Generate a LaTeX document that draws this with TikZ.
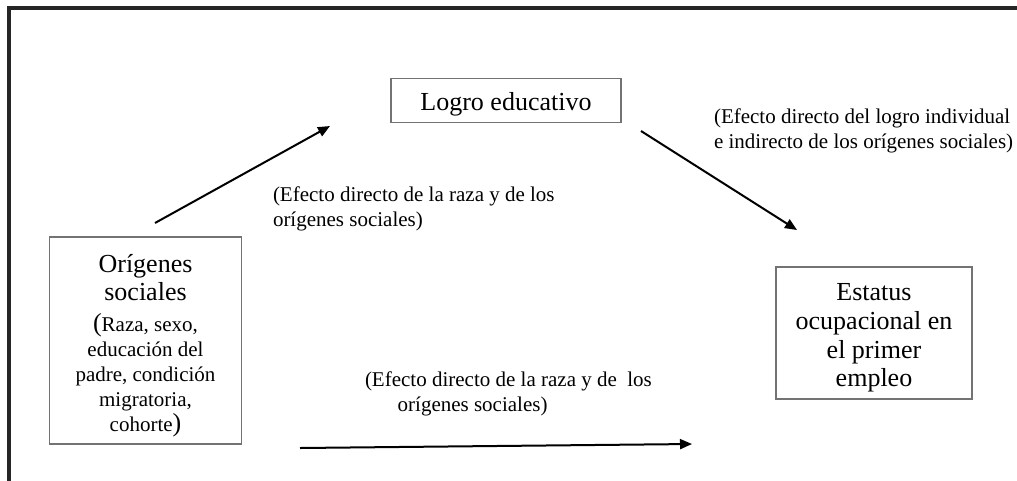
\documentclass[tikz,border=0pt]{standalone}
\usepackage{fontspec}
\setmainfont{Liberation Serif}
\usetikzlibrary{arrows.meta}
\newcommand{\bigfs}{\fontsize{19.5}{21.5}\selectfont}
\newcommand{\smallfs}{\fontsize{15.75}{18.75}\selectfont}
\newcommand{\lowered}[2]{\raisebox{-#1}[\height][\depth]{#2}}
\tikzset{
  boxnode/.style={draw=black!55, line width=0.8pt, inner sep=0pt, outer sep=0pt},
  smalltext/.style={font=\fontsize{15.75}{18.5}\selectfont, inner sep=0pt, outer sep=0pt},
  arrowline/.style={line width=1.5pt, -{Triangle[length=9pt,width=7.5pt]}},
  framestyle/.style={line width=2.4pt, draw=black!85}
}
\begin{document}
\begin{tikzpicture}[x=0.75pt,y=-0.75pt]
\useasboundingbox (0,0) rectangle (1017,480);
% outer frame (right and bottom sides lie outside the picture)
\draw[framestyle] (9,520) -- (9,8) -- (1060,8);

% boxes
\node[boxnode, minimum width=172.5pt, minimum height=33pt] (logro) at (506,100.5)
  {\lowered{3pt}{\bigfs Logro educativo}};

\node[boxnode, minimum width=144pt, minimum height=155.25pt] (orig) at (145.5,340.5)
  {\lowered{4pt}{\begin{minipage}{144pt}\centering
   \bigfs Orígenes\\
   sociales\\[4.5pt]
   (\smallfs Raza, sexo,\\
   educación del\\
   padre, condición\\
   migratoria,\\
   cohorte{\bigfs)}\par
   \end{minipage}}};

\node[boxnode, minimum width=147pt, minimum height=99pt] (estatus) at (874,333)
  {\lowered{3.75pt}{\begin{minipage}{147pt}\centering\bigfs
   Estatus\\ocupacional en\\el primer\\empleo\par
   \end{minipage}}};

% labels (base anchor = baseline of the last line)
\node[smalltext, anchor=base west, align=left] (lab1) at (273,226)
  {(Efecto directo de la raza y de los\\orígenes sociales)};
\node[smalltext, anchor=base west, align=left] (lab2) at (714,148)
  {(Efecto directo del logro individual\\e indirecto de los orígenes sociales)};
\node[smalltext, anchor=base west, align=left] (lab3) at (365,411)
  {(Efecto directo de la raza y de\ \ los\\\hspace*{24.5pt}orígenes sociales)};

% arrow end points
\coordinate (a1s) at (155,223);
\coordinate (a1e) at (330,126);
\coordinate (a2s) at (641,131);
\coordinate (a2e) at (797,230);
\coordinate (a3s) at (300,448);
\coordinate (a3e) at (692,444);

\draw[arrowline] (a1s) -- (a1e);
\draw[arrowline] (a2s) -- (a2e);
\draw[arrowline] (a3s) -- (a3e);
\end{tikzpicture}
\end{document}
